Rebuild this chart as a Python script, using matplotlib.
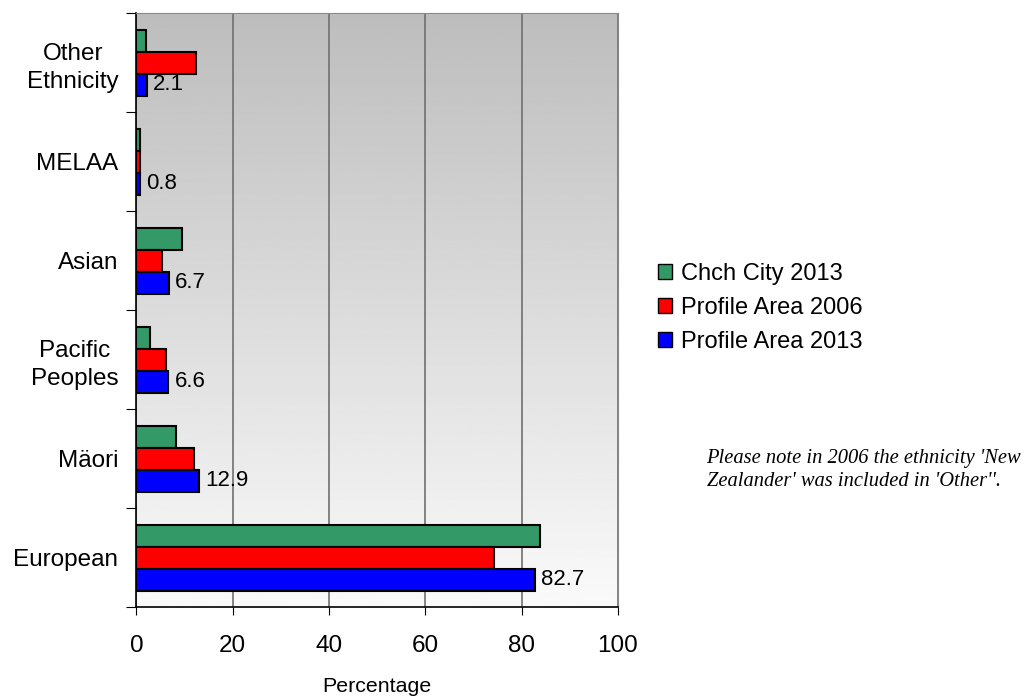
import numpy as np
import matplotlib.pyplot as plt
from matplotlib.patches import Patch

# categories bottom -> top
categories = ["European", "Mäori", "Pacific\nPeoples", "Asian", "MELAA", "Other\nEthnicity"]
chch_2013 = [83.7, 8.2, 2.8, 9.4, 0.8, 2.0]
profile_2006 = [74.2, 11.9, 6.1, 5.3, 0.7, 12.3]
profile_2013 = [82.7, 12.9, 6.6, 6.7, 0.8, 2.1]

series_names = ["Chch City 2013", "Profile Area 2006", "Profile Area 2013"]
series_colors = ["#339966", "#ff0000", "#0000ff"]
note = "Please note in 2006 the ethnicity 'New\nZealander' was included in 'Other''."

plt.rcParams['font.family'] = ['Liberation Sans', 'DejaVu Sans']

fig = plt.figure(figsize=(10.24, 6.97), dpi=100)
ax = fig.add_axes([0.1333, 0.129, 0.4702, 0.8523])

# gradient background
grad = np.linspace(0.98, 0.74, 256).reshape(-1, 1)
ax.imshow(grad, cmap="gray", vmin=0, vmax=1, aspect="auto",
          extent=[0, 100, -0.5, len(categories) - 0.5], origin="lower", zorder=0)

y = np.arange(len(categories))
h = 0.222
series = [chch_2013, profile_2006, profile_2013]
offsets = [h, 0, -h]
for vals, col, off, name in zip(series, series_colors, offsets, series_names):
    ax.barh(y + off, vals, height=h, color=col, edgecolor="black", linewidth=1.5,
            zorder=3, label=name)

for yi, v in zip(y, profile_2013):
    ax.text(v + 1.3, yi - h, "{:.1f}".format(v), va="center", ha="left",
            fontsize=16, zorder=4)

ax.set_xlim(0, 100)
ax.set_ylim(-0.5, len(categories) - 0.5)
ax.set_xticks([0, 20, 40, 60, 80, 100])
ax.tick_params(axis="x", labelsize=17.5, length=6, pad=14)
ax.set_yticks(np.arange(-0.5, len(categories), 1.0))
ax.set_yticklabels([])
ax.set_yticks(y, minor=True)
ax.set_yticklabels(categories, minor=True, fontsize=17.5, ha="right",
                   multialignment="center", linespacing=1.35)
ax.tick_params(axis="y", which="minor", length=0, pad=13)
ax.tick_params(axis="y", which="major", length=7)
ax.grid(axis="x", color="#707070", linewidth=1.2, zorder=1)

for s in ["top", "right"]:
    ax.spines[s].set_color("#888888")
ax.spines["left"].set_linewidth(1.2)
ax.spines["bottom"].set_linewidth(1.2)

ax.set_xlabel("Percentage", fontsize=15.4, labelpad=14.5)

handles = [Patch(facecolor=c, edgecolor="black", label=n)
           for c, n in zip(series_colors, series_names)]
fig.legend(handles=handles, loc="center left", bbox_to_anchor=(0.622, 0.558),
           frameon=False, fontsize=17, handlelength=0.6, handleheight=0.6,
           handletextpad=0.35, labelspacing=0.5)

fig.text(0.690, 0.326, note, fontsize=14.8, style="italic",
         family=["Liberation Serif", "DejaVu Serif"], va="center", ha="left",
         linespacing=1.32)

plt.savefig("out.png", dpi=100)
